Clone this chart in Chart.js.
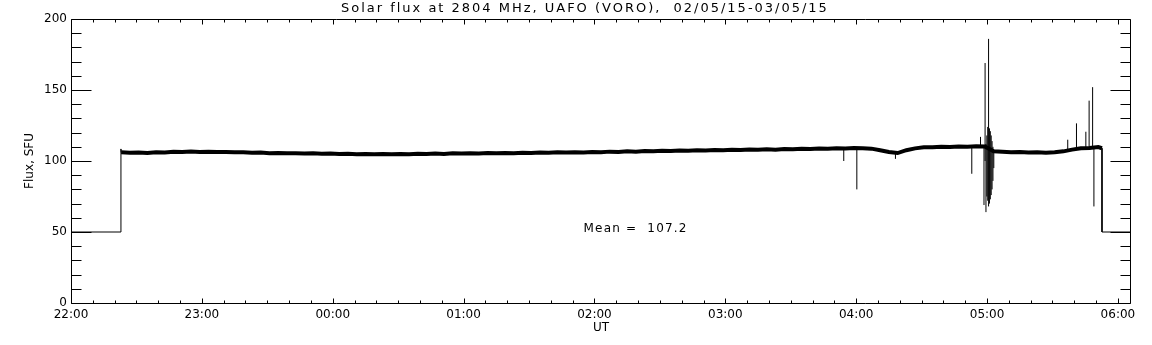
<!DOCTYPE html>
<html><head><meta charset="utf-8">
<script src="https://cdn.jsdelivr.net/npm/chart.js@4.4.1/dist/chart.umd.min.js"></script>
<style>html,body{margin:0;padding:0;background:#fff;}canvas{display:block;}</style>
</head><body>
<canvas id="c" width="1152" height="345"></canvas>
<script>
// ---- texts ----
const titleText = 'Solar flux at 2804 MHz, UAFO (VORO),  02/05/15-03/05/15';
const xAxisLabel = 'UT';
const yAxisLabel = 'Flux, SFU';
const meanLabel = 'Mean =  107.2';
const meanAt = [235, 52];            // minutes after 22:00, flux
const hourLabels = ['22:00','23:00','00:00','01:00','02:00','03:00','04:00','05:00','06:00'];
const xMaxMinutes = 486;              // axis end (minutes after 22:00)
const yTicks = [0, 50, 100, 150, 200];

// ---- receiver offline (flat 50 level) ----
const offMinutes = [0, 22.9, 22.9, 23, 250, 472.7, 472.7, 486];
const offFlux    = [50, 50, 108.5, 106, null, 109, 50, 50];

// ---- main flux record (minutes after 22:00) ----
const bandMinutes = [23,27,31,35,39,43,47,51,55,59,63,67,71,75,79,83,87,91,95,99,
  103,107,111,115,119,123,127,131,135,139,143,147,151,155,159,163,167,171,175,179,
  183,187,191,195,199,203,207,211,215,219,223,227,231,235,239,243,247,251,255,259,
  263,267,271,275,279,283,287,291,295,299,303,307,311,315,319,323,327,331,335,339,
  343,347,351,355,359,363,367,371,375,379,383,387,391,395,399,403,407,411,415,
  419,423,427,431,435,439,443,447,451,455,459,463,467,471,472.7];
const bandFlux = [106.2,105.8,106,105.7,106.1,106,106.5,106.3,106.7,106.4,106.6,106.3,106.4,106.1,106.2,105.8,105.9,105.5,105.7,105.4,
  105.5,105.2,105.4,105.1,105.2,104.9,105.1,104.8,105,104.7,104.9,104.7,104.9,104.8,105.1,104.9,105.2,105,105.4,105.2,
  105.5,105.3,105.6,105.4,105.7,105.5,105.8,105.6,105.9,105.8,106.1,105.9,106.2,106,106.4,106.2,106.6,106.4,106.8,106.6,
  107,106.8,107.2,107,107.4,107.2,107.6,107.4,107.8,107.6,107.9,107.7,108.1,107.9,108.2,108,108.4,108.2,108.6,108.4,
  108.8,108.6,109,108.8,109.2,108.9,108.7,107.6,106.3,105.6,107.6,108.9,109.6,109.6,110,109.8,110.2,110,110.4,
  110.2,106.8,106.5,106.2,106.4,106,106.2,105.8,106.1,106.8,108,109,109.2,109.8,109];

// ---- spikes / dropouts ----
const spikeMinutes = [354.3,360.3,378,413,417,418.6,419.1,419.5,419.9,420.3,420.7,421.1,421.5,421.9,422.3,422.7,423.1,457,461,465.3,466.8,468.4,469];
const spikeLow     = [100, 80, 101.5, 91, 110, 69, 100, 64, 75, 72, 68, 70, 73, 76, 80, 86, 95, 107.5, 108.5, 109, 109, 109, 68];
const spikeHigh    = [109, 109, 106, 110.5, 117, 110, 169, 112, 118, 124, 186, 123, 121, 118, 114, 110, 108, 115, 126.5, 120.6, 142.5, 152, 110];

const FONT = "'DejaVu Sans', 'Liberation Sans', sans-serif";

const offData = offMinutes.map((m, i) => ({x: m, y: offFlux[i]}));
const bandData = bandMinutes.map((m, i) => ({x: m, y: bandFlux[i]}));
const spikeData = [];
spikeMinutes.forEach((m, i) => {
  spikeData.push({x: m, y: spikeLow[i]}, {x: m, y: spikeHigh[i]}, {x: m, y: null});
});

function fitText(ctx, text, left, cy, width) {
  ctx.save();
  ctx.letterSpacing = '0px';
  const w = ctx.measureText(text).width;
  const ls = (width - w) / (text.length - 1);
  ctx.textAlign = 'left';
  if ('letterSpacing' in ctx) {
    ctx.letterSpacing = ls.toFixed(2) + 'px';
    ctx.fillText(text, left, cy);
  } else {
    ctx.translate(left, cy);
    ctx.scale(width / w, 1);
    ctx.fillText(text, 0, 0);
  }
  ctx.restore();
}

const framePlugin = {
  id: 'idlFrame',
  afterDraw(chart) {
    const {ctx, chartArea: a, scales: {x, y}} = chart;
    ctx.save();
    ctx.strokeStyle = '#000';
    ctx.lineWidth = 1;
    const L = Math.round(a.left) + 0.5, R = Math.round(a.right) - 0.5;
    const T = Math.round(a.top) + 0.5, B = Math.round(a.bottom) + 0.5;
    ctx.beginPath();
    ctx.moveTo(L, T); ctx.lineTo(R, T); ctx.lineTo(R, B); ctx.lineTo(L, B); ctx.closePath();
    for (let m = 0; m <= xMaxMinutes; m += 10) {
      const px = Math.round(x.getPixelForValue(m)) + 0.5;
      const len = (m % 60 === 0) ? 5 : 3;
      ctx.moveTo(px, B); ctx.lineTo(px, B - len);
      ctx.moveTo(px, T); ctx.lineTo(px, T + len);
    }
    for (let v = 0; v <= 200; v += 10) {
      const py = Math.round(y.getPixelForValue(v)) + 0.5;
      const len = (v % 50 === 0) ? 20 : 10;
      ctx.moveTo(L, py); ctx.lineTo(L + len, py);
      ctx.moveTo(R, py); ctx.lineTo(R - len, py);
    }
    ctx.stroke();

    ctx.fillStyle = '#000';
    ctx.textBaseline = 'middle';
    ctx.font = '13px ' + FONT;
    fitText(ctx, titleText, 341, 9, 486);
    ctx.font = '12px ' + FONT;
    ctx.textAlign = 'center';
    ctx.fillText(xAxisLabel, (a.left + a.right) / 2, 328);
    fitText(ctx, meanLabel, x.getPixelForValue(meanAt[0]), y.getPixelForValue(meanAt[1]), 103);
    ctx.save();
    ctx.translate(30, (a.top + a.bottom) / 2);
    ctx.rotate(-Math.PI / 2);
    ctx.textAlign = 'center';
    ctx.fillText(yAxisLabel, 0, 0);
    ctx.restore();
    ctx.restore();
  }
};

new Chart(document.getElementById('c'), {
  type: 'line',
  data: {
    datasets: [
      {data: bandData, borderColor: '#000', borderWidth: 4, pointRadius: 0, tension: 0, spanGaps: false},
      {data: spikeData, borderColor: '#000', borderWidth: 1, pointRadius: 0, tension: 0, spanGaps: false},
      {data: offData, borderColor: '#000', borderWidth: 1, pointRadius: 0, tension: 0, spanGaps: false}
    ]
  },
  options: {
    responsive: false,
    animation: false,
    devicePixelRatio: 1,
    layout: {padding: {top: 19, right: 21, bottom: 0, left: 0}},
    plugins: {legend: {display: false}, tooltip: {enabled: false}, title: {display: false}},
    scales: {
      x: {
        type: 'linear', min: 0, max: xMaxMinutes,
        grid: {display: false, drawTicks: false}, border: {display: false},
        ticks: {
          stepSize: 60, includeBounds: false, autoSkip: false, maxRotation: 0,
          padding: 5, color: '#000', font: {family: FONT, size: 12},
          callback: (v) => (v % 60 === 0 && hourLabels[v / 60] !== undefined) ? hourLabels[v / 60] : ''
        },
        afterFit: (s) => { s.height = 42; }
      },
      y: {
        type: 'linear', min: 0, max: 200,
        grid: {display: false, drawTicks: false}, border: {display: false},
        afterBuildTicks: (s) => { s.ticks = yTicks.map(v => ({value: v})); },
        ticks: {padding: 4, color: '#000', font: {family: FONT, size: 12}},
        afterFit: (s) => { s.width = 71; }
      }
    }
  },
  plugins: [framePlugin]
});
</script>
</body></html>
